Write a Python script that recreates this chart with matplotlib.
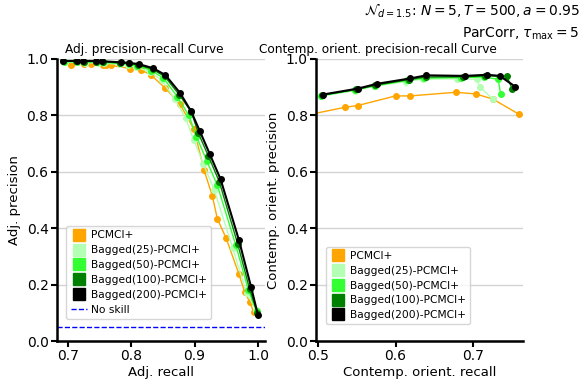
import matplotlib
matplotlib.use("Agg")
import matplotlib.pyplot as plt
from matplotlib.lines import Line2D

# ---- data ----
labels = ["PCMCI+", "Bagged(25)-PCMCI+", "Bagged(50)-PCMCI+",
          "Bagged(100)-PCMCI+", "Bagged(200)-PCMCI+"]
colors = ["orange", "#b3ffb3", "#33ff33", "green", "black"]

# adjacency precision-recall
adj_recall = [
    [0.705, 0.726, 0.736, 0.755, 0.761, 0.769, 0.799, 0.816, 0.831, 0.854,
     0.877, 0.899, 0.915, 0.928, 0.936, 0.950, 0.970, 0.979, 0.987, 0.993],
    [0.695, 0.716, 0.728, 0.747, 0.757, 0.782, 0.795, 0.808, 0.830, 0.848,
     0.869, 0.886, 0.899, 0.914, 0.931, 0.960, 0.982, 0.997],
    [0.694, 0.714, 0.726, 0.746, 0.756, 0.783, 0.796, 0.810, 0.832, 0.851,
     0.873, 0.891, 0.903, 0.919, 0.936, 0.965, 0.985, 0.998],
    [0.693, 0.713, 0.725, 0.744, 0.755, 0.783, 0.797, 0.811, 0.834, 0.853,
     0.876, 0.895, 0.906, 0.922, 0.939, 0.968, 0.987, 0.999],
    [0.693, 0.715, 0.724, 0.745, 0.754, 0.784, 0.797, 0.812, 0.835, 0.854,
     0.877, 0.894, 0.908, 0.924, 0.941, 0.970, 0.989, 1.000],
]
adj_precision = [
    [0.979, 0.981, 0.982, 0.980, 0.978, 0.977, 0.966, 0.960, 0.944, 0.896,
     0.840, 0.751, 0.606, 0.515, 0.433, 0.364, 0.237, 0.175, 0.139, 0.104],
    [0.988, 0.988, 0.987, 0.986, 0.985, 0.981, 0.978, 0.972, 0.953, 0.925,
     0.857, 0.790, 0.712, 0.627, 0.537, 0.330, 0.170, 0.110],
    [0.990, 0.990, 0.989, 0.989, 0.988, 0.984, 0.981, 0.976, 0.959, 0.932,
     0.866, 0.800, 0.725, 0.640, 0.552, 0.340, 0.180, 0.105],
    [0.992, 0.992, 0.991, 0.991, 0.990, 0.986, 0.984, 0.979, 0.963, 0.938,
     0.873, 0.812, 0.737, 0.655, 0.565, 0.345, 0.183, 0.100],
    [0.993, 0.993, 0.993, 0.993, 0.992, 0.988, 0.986, 0.982, 0.967, 0.943,
     0.880, 0.817, 0.746, 0.663, 0.574, 0.358, 0.193, 0.092],
]
no_skill = 0.05

# contemporaneous orientation precision-recall
ori_recall = [
    [0.492, 0.535, 0.551, 0.600, 0.619, 0.678, 0.704, 0.726, 0.760],
    [0.503, 0.547, 0.572, 0.613, 0.635, 0.680, 0.705, 0.709, 0.726],
    [0.504, 0.548, 0.573, 0.615, 0.637, 0.685, 0.714, 0.733, 0.736],
    [0.505, 0.549, 0.574, 0.617, 0.639, 0.688, 0.716, 0.744, 0.751],
    [0.506, 0.551, 0.576, 0.619, 0.640, 0.690, 0.719, 0.735, 0.755],
]
ori_precision = [
    [0.805, 0.829, 0.835, 0.869, 0.869, 0.882, 0.876, 0.858, 0.804],
    [0.868, 0.888, 0.903, 0.920, 0.928, 0.930, 0.928, 0.901, 0.858],
    [0.870, 0.890, 0.905, 0.924, 0.932, 0.934, 0.936, 0.928, 0.877],
    [0.872, 0.892, 0.907, 0.927, 0.936, 0.937, 0.940, 0.939, 0.895],
    [0.874, 0.895, 0.912, 0.931, 0.942, 0.940, 0.944, 0.940, 0.902],
]

fig = plt.figure(figsize=(5.81, 3.88), dpi=100)
ax1 = fig.add_axes([0.098, 0.121, 0.358, 0.727])
ax2 = fig.add_axes([0.544, 0.121, 0.356, 0.727])


def style(ax):
    for s in ["top", "right"]:
        ax.spines[s].set_visible(False)
    for s in ["left", "bottom"]:
        ax.spines[s].set_linewidth(1.8)
    ax.yaxis.grid(True, color="lightgrey", linewidth=1)
    ax.set_axisbelow(True)
    ax.tick_params(width=1.5, length=4, labelsize=10, pad=2)
    ax.set_ylim(0, 1)
    ax.set_yticks([0, 0.2, 0.4, 0.6, 0.8, 1.0])


for i in range(len(labels)):
    lw = 1.5 if i == 4 else 1.0
    ax1.plot(adj_recall[i], adj_precision[i], "o-", color=colors[i],
             lw=lw, ms=4, zorder=2 + i)
    ax2.plot(ori_recall[i], ori_precision[i], "o-", color=colors[i],
             lw=lw, ms=4, zorder=2 + i)

ax1.axhline(no_skill, color="blue", ls="--", lw=1)

style(ax1)
style(ax2)
ax1.set_xlim(0.683, 1.011)
ax1.set_xticks([0.7, 0.8, 0.9, 1.0])
ax2.set_xlim(0.497, 0.765)
ax2.set_xticks([0.5, 0.6, 0.7])

ax1.set_xlabel("Adj. recall", fontsize=9.5, labelpad=2)
ax1.set_ylabel("Adj. precision", fontsize=9.5)
ax1.set_title("Adj. precision-recall Curve", fontsize=8.7, pad=4, x=0.42)
ax2.set_xlabel("Contemp. orient. recall", fontsize=9.5, labelpad=2)
ax2.set_ylabel("Contemp. orient. precision", fontsize=9.5)
ax2.set_title("Contemp. orient. precision-recall Curve", fontsize=8.7,
              pad=4, x=0.30)

handles = [Line2D([], [], marker="s", ls="", color=c, ms=9) for c in colors]
skill = Line2D([], [], color="blue", ls="--", lw=1)
ax1.legend(handles + [skill], labels + ["No skill"], loc="lower left",
           bbox_to_anchor=(0.02, 0.06), fontsize=7.7, handletextpad=0.4,
           handlelength=1.5, labelspacing=0.45, borderpad=0.4)
ax2.legend(handles, labels, loc="lower left", bbox_to_anchor=(0.02, 0.04),
           fontsize=7.7, handletextpad=0.4, handlelength=1.5,
           labelspacing=0.45, borderpad=0.4)

fig.text(0.998, 0.995, r"$\mathcal{N}_{d=1.5}$: $N=5, T=500, a=0.95$",
         ha="right", va="top", fontsize=10)
fig.text(0.998, 0.935, r"ParCorr, $\tau_{\max}=5$",
         ha="right", va="top", fontsize=10)

fig.savefig("out.png", dpi=100)
